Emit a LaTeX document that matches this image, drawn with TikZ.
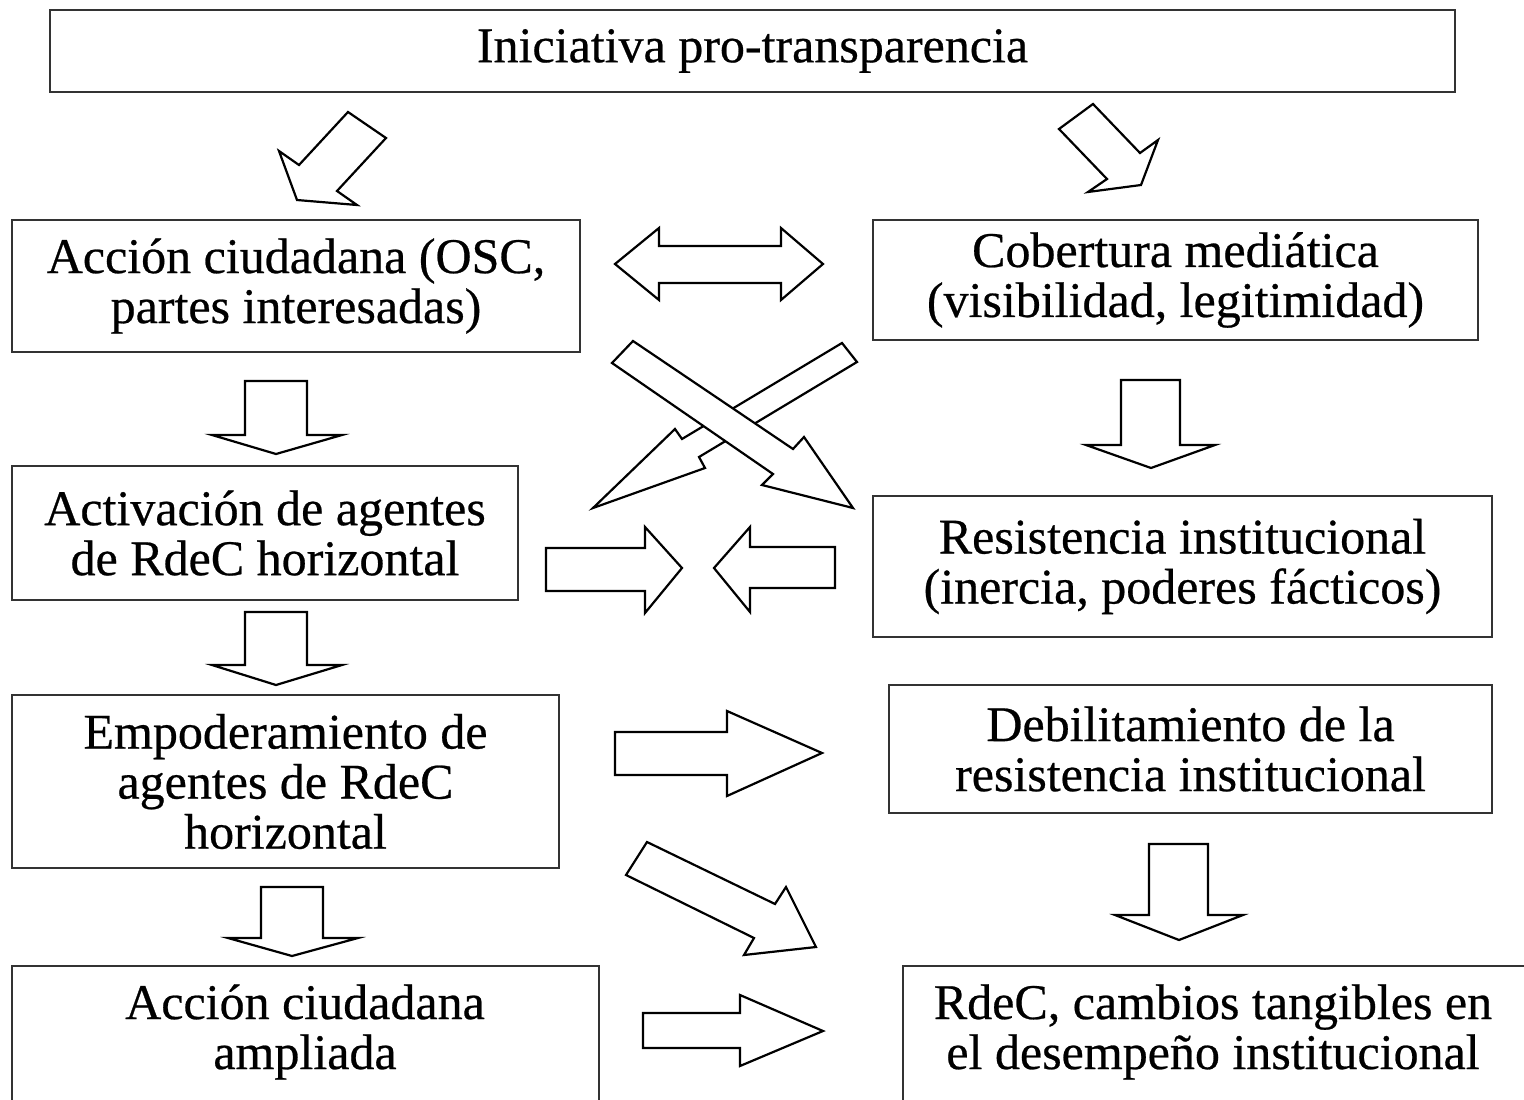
\documentclass[tikz,border=0pt]{standalone}
\usepackage{fontspec}
\setmainfont{Liberation Serif}[FakeBold=0.5]

\tikzset{
  caja/.style={draw=black!80, line width=2pt, align=center, inner sep=0pt,
    font=\fontsize{50}{50}\selectfont},
  texto/.style={align=center, inner sep=0pt, font=\fontsize{50}{50}\selectfont},
  flecha/.style={draw, line width=2.2pt, line join=miter, fill=white},
}

\begin{document}
\begin{tikzpicture}[x=1pt,y=-1pt]
\useasboundingbox (0,0) rectangle (1524,1100);

% cajas
\node[caja, minimum width=1405, minimum height=82] (inic) at (752.5,51) {Iniciativa pro-transparencia};
\node[caja, minimum width=568, minimum height=132] (accion) at (296,286) {Acci\'on ciudadana (OSC,\\partes interesadas)};
\node[caja, minimum width=605, minimum height=120] (cober) at (1175.5,280) {Cobertura medi\'atica\\(visibilidad, legitimidad)};
\node[caja, minimum width=506, minimum height=134] (activ) at (265,533) {Activaci\'on de agentes\\de RdeC horizontal};
\node[caja, minimum width=619, minimum height=141] (resis) at (1182.5,566.5) {Resistencia institucional\\(inercia, poderes f\'acticos)};
\node[caja, minimum width=547, minimum height=173] (empod) at (285.5,781.5) {Empoderamiento de\\agentes de RdeC\\horizontal};
\node[caja, minimum width=603, minimum height=128] (debil) at (1190.5,749) {Debilitamiento de la\\resistencia institucional};
\draw[draw=black!80, line width=2pt] (12,966) rectangle (599,1115);
\node[texto] (ampl) at (305,1032) {Acci\'on ciudadana\\ampliada};
\draw[draw=black!80, line width=2pt] (903,966) rectangle (1535,1115);
\node[texto] (rdec) at (1213,1032) {RdeC, cambios tangibles en\\el desempe\~no institucional};

% flechas de arriba
\draw[flecha] (348,112) -- (386,138) -- (337,191) -- (357,205) -- (297,200) -- (279,151) -- (299,165) -- cycle;
\draw[flecha] (1093,104) -- (1140,153) -- (1158,140) -- (1141,185) -- (1088,192) -- (1107,179) -- (1059,129) -- cycle;

% doble flecha
\draw[flecha] (615,264) -- (659,228) -- (659,246) -- (781,246) -- (781,228) -- (823,264)
  -- (781,300) -- (781,283) -- (659,283) -- (659,300) -- cycle;

% flechas cruzadas
\draw[flecha] (842,343) -- (857,362) -- (699,457) -- (705,468) -- (593,508) -- (675,429) -- (682,439) -- cycle;
\draw[flecha] (633,341) -- (793,449) -- (804,437) -- (853,508) -- (762,485) -- (773,474) -- (612,363) -- cycle;

% flechas hacia abajo, izquierda
\draw[flecha] (245,381) -- (307,381) -- (307,435) -- (342,435) -- (276,454) -- (212,435) -- (245,435) -- cycle;
\draw[flecha] (245,612) -- (307,612) -- (307,665) -- (342,665) -- (276,685) -- (212,665) -- (245,665) -- cycle;
\draw[flecha] (261,887) -- (323,887) -- (323,938) -- (358,938) -- (292,956) -- (228,938) -- (261,938) -- cycle;

% flechas hacia abajo, derecha
\draw[flecha] (1121,380) -- (1180,380) -- (1180,445) -- (1215,445) -- (1151,468) -- (1086,445) -- (1121,445) -- cycle;
\draw[flecha] (1149,844) -- (1208,844) -- (1208,915) -- (1243,915) -- (1179,940) -- (1115,915) -- (1149,915) -- cycle;

% flechas enfrentadas
\draw[flecha] (546,548) -- (645,548) -- (645,527) -- (682,568) -- (645,613) -- (645,591) -- (546,591) -- cycle;
\draw[flecha] (835,547) -- (750,547) -- (750,527) -- (714,568) -- (750,612) -- (750,588) -- (835,588) -- cycle;

% flechas hacia la derecha
\draw[flecha] (615,732) -- (727,732) -- (727,711) -- (822,753) -- (727,796) -- (727,775) -- (615,775) -- cycle;
\draw[flecha] (647,842) -- (775,904) -- (786,887) -- (816,947) -- (744,955) -- (754,938) -- (626,875) -- cycle;
\draw[flecha] (643,1013) -- (740,1013) -- (740,995) -- (823,1031) -- (740,1066) -- (740,1048) -- (643,1048) -- cycle;
\end{tikzpicture}
\end{document}
